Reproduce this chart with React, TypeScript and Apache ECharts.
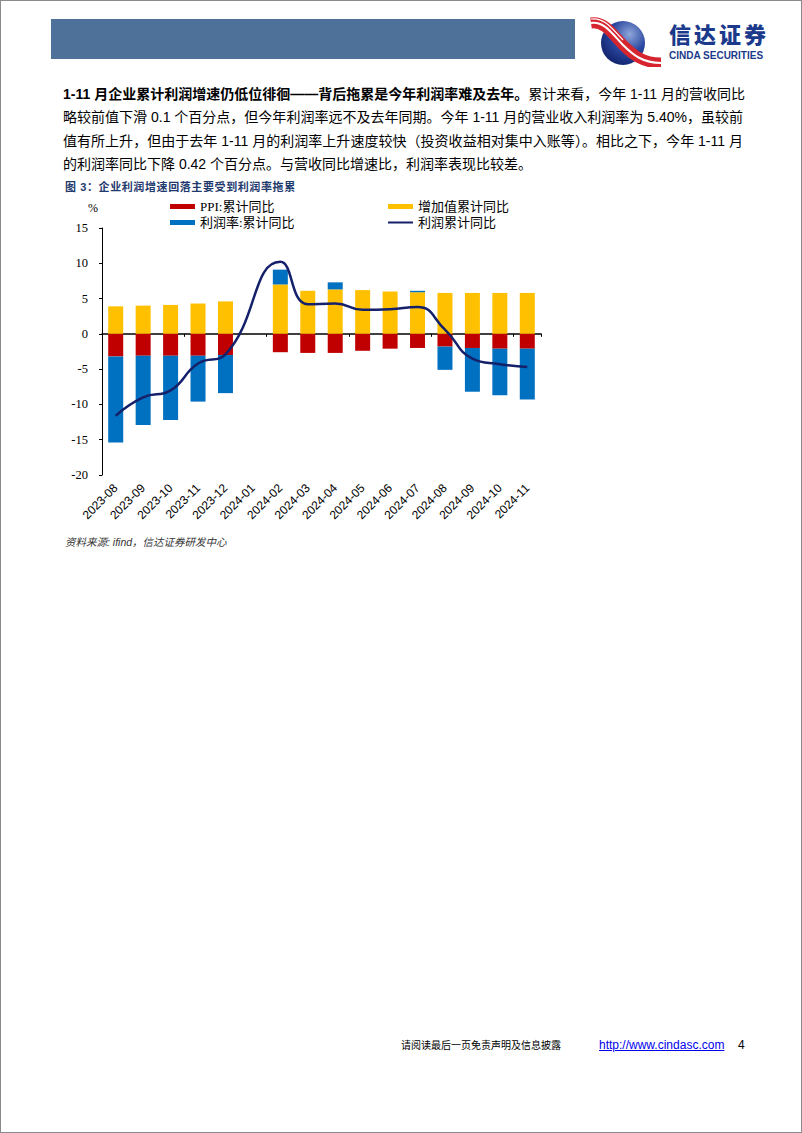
import React, { useEffect, useRef } from 'react';
import * as echarts from 'echarts';

const categories = ['2023-08', '2023-09', '2023-10', '2023-11', '2023-12', '2024-01', '2024-02', '2024-03', '2024-04', '2024-05', '2024-06', '2024-07', '2024-08', '2024-09', '2024-10', '2024-11'];
const ppiYoY = [-3.2, -3.1, -3.1, -3.1, -3.0, null, -2.6, -2.7, -2.7, -2.4, -2.1, -2.0, -1.8, -2.0, -2.1, -2.1];
const valueAddedYoY = [3.9, 4.0, 4.1, 4.3, 4.6, null, 7.0, 6.1, 6.3, 6.2, 6.0, 5.9, 5.8, 5.8, 5.8, 5.8];
const marginYoY = [-12.2, -9.8, -9.1, -6.5, -5.4, null, 2.1, 0, 1.0, 0, 0, 0.2, -3.3, -6.2, -6.6, -7.2];
const profitYoY = [-11.6, -9.0, -8.0, -4.2, -2.9, null, 10.2, 4.2, 4.3, 3.4, 3.5, 3.8, 0.6, -3.5, -4.3, -4.7];

const yMin = -20;
const yMax = 15;
const yInterval = 5;

const NAME_PPI = 'PPI:累计同比';
const NAME_VA = '增加值累计同比';
const NAME_MARGIN = '利润率:累计同比';
const NAME_PROFIT = '利润累计同比';

const paraLines: { bold?: string; text: string; last?: boolean }[] = [
  { bold: '1-11 月企业累计利润增速仍低位徘徊——背后拖累是今年利润率难及去年。', text: '累计来看，今年 1-11 月的营收同比' },
  { text: '略较前值下滑 0.1 个百分点，但今年利润率远不及去年同期。今年 1-11 月的营业收入利润率为 5.40%，虽较前' },
  { text: '值有所上升，但由于去年 1-11 月的利润率上升速度较快（投资收益相对集中入账等）。相比之下，今年 1-11 月' },
  { text: '的利润率同比下降 0.42 个百分点。与营收同比增速比，利润率表现比较差。', last: true },
];

const SERIF = '"Liberation Serif", "Noto Sans CJK SC", serif';
const SANS = '"Liberation Sans", "Noto Sans CJK SC", sans-serif';

export default function App() {
  const ref = useRef<HTMLDivElement>(null);

  useEffect(() => {
    document.body.style.margin = '0';
    const chart = echarts.init(ref.current!, null, { renderer: 'svg' });
    const legendText = { fontSize: 13, fontFamily: SERIF, color: '#000' };
    chart.setOption({
      animation: false,
      grid: { left: 101, top: 37, width: 439, height: 247 },
      legend: [
        {
          orient: 'vertical', left: 164, top: 4, itemWidth: 25, itemHeight: 5, itemGap: 3,
          data: [{ name: NAME_PPI, icon: 'rect' }, { name: NAME_MARGIN, icon: 'rect' }],
          textStyle: legendText,
        },
        {
          orient: 'vertical', left: 381, top: 4, itemWidth: 25, itemHeight: 5, itemGap: 3,
          data: [{ name: NAME_VA, icon: 'rect' }, { name: NAME_PROFIT, itemStyle: { opacity: 0 } }],
          textStyle: legendText,
        },
      ],
      xAxis: [
        {
          type: 'category', data: categories, position: 'bottom',
          axisLine: { onZero: true, lineStyle: { color: '#000', width: 1.5 } },
          axisTick: { show: true, length: 3, lineStyle: { color: '#000' } },
          axisLabel: { show: false },
          splitLine: { show: false },
        },
        {
          type: 'category', data: categories, position: 'bottom',
          axisLine: { show: false, onZero: false },
          axisTick: { show: false },
          axisLabel: { rotate: 45, interval: 0, fontSize: 12, fontFamily: SANS, color: '#000', margin: 11 },
          splitLine: { show: false },
        },
      ],
      yAxis: {
        type: 'value', min: yMin, max: yMax, interval: yInterval,
        axisLine: { show: true, lineStyle: { color: '#000' } },
        axisTick: { show: true, length: 3, lineStyle: { color: '#000' } },
        splitLine: { show: false },
        axisLabel: { fontSize: 12.5, fontFamily: SERIF, color: '#000', margin: 14 },
      },
      graphic: [
        { type: 'text', x: 92, y: 17, style: { text: '%', fontSize: 12, fontFamily: SERIF, fill: '#000', align: 'center', verticalAlign: 'middle' } },
      ],
      series: [
        { name: NAME_VA, type: 'bar', stack: 's', barWidth: 15, data: valueAddedYoY, itemStyle: { color: '#FFC000' } },
        { name: NAME_PPI, type: 'bar', stack: 's', barWidth: 15, data: ppiYoY, itemStyle: { color: '#C00000' } },
        { name: NAME_MARGIN, type: 'bar', stack: 's', barWidth: 15, data: marginYoY, itemStyle: { color: '#0070C0' } },
        {
          name: NAME_PROFIT, type: 'line', data: profitYoY, smooth: true, symbol: 'none', connectNulls: true,
          lineStyle: { color: '#14216A', width: 2.5 }, itemStyle: { color: '#14216A' }, z: 5,
        },
      ],
    });
    return () => chart.dispose();
  }, []);

  return (
    <div style={{ position: 'absolute', left: 0, top: 0, width: 802, height: 1133, boxSizing: 'border-box', border: '1px solid #8a8a8a', background: '#fff', overflow: 'hidden' }}>
      <div style={{ position: 'absolute', left: 50, top: 18, width: 524, height: 40, background: '#4E7199' }} />
      <svg style={{ position: 'absolute', left: 586, top: 16 }} width={78} height={50} viewBox="0 0 78 50">
        <defs>
          <radialGradient id="lg" cx="0.65" cy="0.3" r="0.8">
            <stop offset="0" stopColor="#8FA6DA" />
            <stop offset="0.5" stopColor="#2B47A0" />
            <stop offset="1" stopColor="#0E1F66" />
          </radialGradient>
        </defs>
        <circle cx={36} cy={26} r={22} fill="url(#lg)" />
        <path d="M4,6 C18,4 26,18 36,28 C46,38 56,46 74,46" stroke="#D7252F" strokeWidth={11} fill="none" />
        <path d="M4,6 C18,4 26,18 36,28 C46,38 56,46 74,46" stroke="#fff" strokeWidth={2} fill="none" />
        <path d="M4,2 C18,0 26,13 36,23" stroke="#fff" strokeWidth={1.2} fill="none" />
      </svg>
      <div style={{ position: 'absolute', left: 668, top: 20, fontSize: 22, fontWeight: 900, color: '#1B3A8C', fontFamily: '"Noto Sans CJK SC", sans-serif', lineHeight: '24px', letterSpacing: 3, whiteSpace: 'nowrap' }}>信达证券</div>
      <div style={{ position: 'absolute', left: 668, top: 50, fontSize: 10, fontWeight: 700, color: '#1B3A8C', fontFamily: SANS, lineHeight: '10px', whiteSpace: 'nowrap' }}>CINDA SECURITIES</div>

      {paraLines.map((l, i) => (
        <div key={i} style={{
          position: 'absolute', left: 62, top: 83 + i * 23.3, width: l.last ? undefined : 680,
          fontSize: 14, lineHeight: '20px', fontFamily: SANS, color: '#000', whiteSpace: 'nowrap',
          textAlign: 'justify', textAlignLast: l.last ? 'left' : 'justify',
        }}>
          {l.bold ? <b>{l.bold}</b> : null}{l.text}
        </div>
      ))}

      <div style={{ position: 'absolute', left: 64, top: 179, fontSize: 11, fontWeight: 700, color: '#1F3A6E', fontFamily: SANS, letterSpacing: 0.6, lineHeight: '14px', whiteSpace: 'nowrap' }}>图 3：企业利润增速回落主要受到利润率拖累</div>

      <div ref={ref} style={{ position: 'absolute', left: 0, top: 190, width: 600, height: 340 }} />

      <div style={{ position: 'absolute', left: 64, top: 535, fontSize: 10.5, fontStyle: 'italic', color: '#333', fontFamily: SANS, lineHeight: '13px', whiteSpace: 'nowrap' }}>资料来源: ifind，信达证券研发中心</div>

      <div style={{ position: 'absolute', left: 400, top: 1038, fontSize: 10, color: '#000', fontFamily: SANS, lineHeight: '14px', whiteSpace: 'nowrap' }}>请阅读最后一页免责声明及信息披露</div>
      <div style={{ position: 'absolute', left: 598, top: 1037, fontSize: 12, color: '#0000EE', textDecoration: 'underline', fontFamily: SANS, lineHeight: '15px', whiteSpace: 'nowrap' }}>http://www.cindasc.com</div>
      <div style={{ position: 'absolute', left: 737, top: 1037, fontSize: 12, color: '#000', fontFamily: SANS, lineHeight: '15px' }}>4</div>
    </div>
  );
}
